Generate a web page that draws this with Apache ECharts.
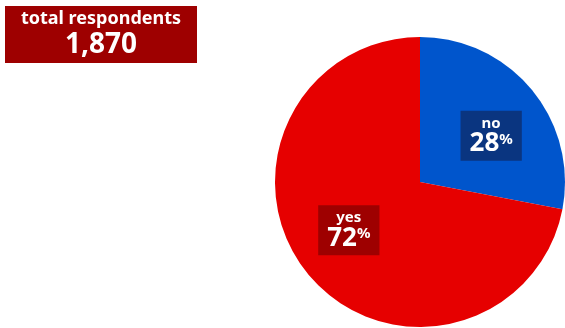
<!DOCTYPE html>
<html>
<head>
<meta charset="utf-8">
<script src="https://cdn.jsdelivr.net/npm/echarts@6/dist/echarts.min.js"></script>
<style>
  html, body { margin: 0; padding: 0; background: #ffffff; }
  #chart { width: 565px; height: 328px; }
</style>
</head>
<body>
<div id="chart"></div>
<script>
// Survey answers
const answers = ['no', 'yes'];
const shares = [28, 72];
const totalRespondents = '1,870';
const totalLabel = 'total respondents';

const sliceColors = ['#0055cc', '#e60000'];
const labelBoxColors = ['#0a3580', '#9e0000'];
const labelOffsets = [[13, 2], [-13, 0]];

const FONT = '"Noto Sans", "Open Sans", sans-serif';

const chart = echarts.init(document.getElementById('chart'), null, { renderer: 'canvas' });

const pieData = answers.map((name, i) => ({
  name: name,
  value: shares[i],
  itemStyle: { color: sliceColors[i] },
  label: {
    backgroundColor: labelBoxColors[i],
    offset: labelOffsets[i]
  }
}));

chart.setOption({
  animation: false,
  title: {
    text: '{a|' + totalLabel + '}\n{b|' + totalRespondents + '}',
    left: 5,
    top: 4,
    padding: [4, 8, 4, 8],
    backgroundColor: '#9e0000',
    textStyle: {
      rich: {
        a: { fontFamily: FONT, fontWeight: 'bold', fontSize: 18, color: '#ffffff', width: 176, align: 'center', lineHeight: 22 },
        b: { fontFamily: FONT, fontWeight: 'bold', fontSize: 28, color: '#ffffff', width: 176, align: 'center', lineHeight: 30 }
      }
    }
  },
  series: [{
    type: 'pie',
    center: [420, 182],
    radius: [0, 145],
    startAngle: 90,
    clockwise: true,
    silent: true,
    itemStyle: { borderWidth: 0 },
    label: {
      show: true,
      position: 'inside',
      padding: [4, 9, 4, 9],
      formatter: p => '{n|' + p.name + '}\n{v|' + p.value + '}{p|%}',
      rich: {
        n: { fontFamily: FONT, fontWeight: 'bold', fontSize: 15, color: '#ffffff', align: 'center', lineHeight: 17 },
        v: { fontFamily: FONT, fontWeight: 'bold', fontSize: 26, color: '#ffffff', lineHeight: 25, verticalAlign: 'bottom' },
        p: { fontFamily: FONT, fontWeight: 'bold', fontSize: 15, color: '#ffffff', lineHeight: 25, verticalAlign: 'top' }
      }
    },
    labelLine: { show: false },
    data: pieData
  }]
});
</script>
</body>
</html>
